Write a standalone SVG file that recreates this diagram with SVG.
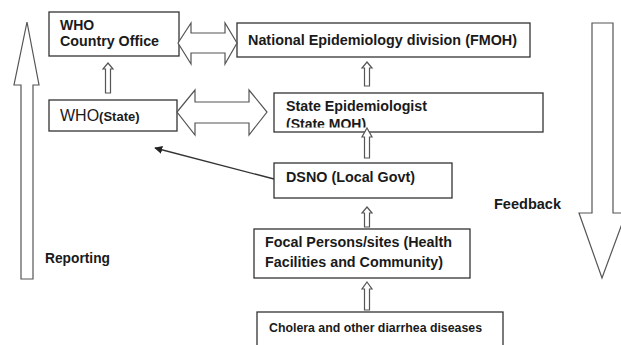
<svg xmlns="http://www.w3.org/2000/svg" width="621" height="345" viewBox="0 0 621 345">
<defs>
<style>
.box{fill:#fff;stroke:#333;stroke-width:1.3}
.arr{fill:#fff;stroke:#555;stroke-width:1.2;stroke-linejoin:miter}
.t{font-family:"Liberation Sans",Arial,sans-serif;font-weight:bold;font-size:14px;fill:#1a1a1a}
.line{stroke:#333;stroke-width:1.3;fill:none}
</style>
<marker id="ah" viewBox="0 0 10 10" refX="9" refY="5" markerWidth="8" markerHeight="8" orient="auto-start-reverse" markerUnits="userSpaceOnUse">
<path d="M0,0 L10,5 L0,10 z" fill="#222"/>
</marker>
<clipPath id="cut"><rect x="0" y="0" width="621" height="127.5"/></clipPath>
</defs>
<rect width="621" height="345" fill="#fff"/>

<g id="reporting">
<path class="arr" d="M27,22 L39,85 L33,85 L33,279 L21,279 L21,85 L14,85 Z"/>
<text class="t" x="45" y="263" textLength="65" lengthAdjust="spacingAndGlyphs">Reporting</text>
</g>

<g id="feedback">
<path class="arr" d="M592,23 L613,23 L613,213 L626,213 L602,278 L579,213 L592,213 Z"/>
<text class="t" x="494" y="209" textLength="67" lengthAdjust="spacingAndGlyphs">Feedback</text>
</g>

<g id="who-country">
<rect class="box" x="49" y="12" width="130" height="44"/>
<text class="t" x="60" y="30">WHO</text>
<text class="t" x="60" y="46" textLength="99" lengthAdjust="spacingAndGlyphs">Country Office</text>
</g>

<g id="national">
<rect class="box" x="237" y="23" width="293" height="34"/>
<text class="t" x="248" y="45" textLength="269" lengthAdjust="spacingAndGlyphs">National Epidemiology division (FMOH)</text>
</g>

<g id="who-state">
<rect class="box" x="49" y="100" width="128" height="31"/>
<text class="t" x="60" y="121"><tspan style="font-weight:normal;font-size:16px">WHO</tspan><tspan style="font-size:13px">(State)</tspan></text>
</g>

<g id="state-epi">
<rect class="box" x="274" y="93" width="269" height="39"/>
<text class="t" x="286" y="111" textLength="141" lengthAdjust="spacingAndGlyphs">State Epidemiologist</text>
<text class="t" x="286" y="128.5" clip-path="url(#cut)">(State MOH)</text>
</g>

<g id="dsno">
<rect class="box" x="274" y="163" width="178" height="35"/>
<text class="t" x="286" y="182" textLength="129" lengthAdjust="spacingAndGlyphs">DSNO (Local Govt)</text>
</g>

<g id="focal">
<rect class="box" x="254" y="229" width="216" height="49"/>
<text class="t" x="265" y="247" textLength="187" lengthAdjust="spacingAndGlyphs">Focal Persons/sites (Health</text>
<text class="t" x="265" y="267" textLength="178" lengthAdjust="spacingAndGlyphs">Facilities and Community)</text>
</g>

<g id="cholera">
<rect class="box" x="257" y="312" width="246" height="40"/>
<text class="t" x="269" y="332" style="font-size:12px" textLength="213" lengthAdjust="spacingAndGlyphs">Cholera and other diarrhea diseases</text>
</g>

<g id="connectors">
<path class="arr" d="M178,43 L191,23 L191,33 L225,33 L225,23 L237,43 L225,64 L225,53 L191,53 L191,64 Z"/>
<path class="arr" d="M177,112 L195,90 L195,102 L249,102 L249,90 L267,112 L249,135 L249,123 L195,123 L195,135 Z"/>
<path class="arr" d="M108,63 L113,69 L110.5,69 L110.5,93 L105.5,93 L105.5,69 L103,69 Z"/>
<path class="arr" d="M367,62 L372,68 L369.5,68 L369.5,86 L364.5,86 L364.5,68 L362,68 Z"/>
<path class="arr" d="M367,128 L372,137 L369.5,137 L369.5,158 L364.5,158 L364.5,137 L362,137 Z"/>
<path class="arr" d="M367,207 L372,213 L369.5,213 L369.5,227 L364.5,227 L364.5,213 L362,213 Z"/>
<path class="arr" d="M367,282 L372,289 L369.5,289 L369.5,310 L364.5,310 L364.5,289 L362,289 Z"/>
<line class="line" x1="274" y1="179" x2="155" y2="148" marker-end="url(#ah)"/>
</g>
</svg>
